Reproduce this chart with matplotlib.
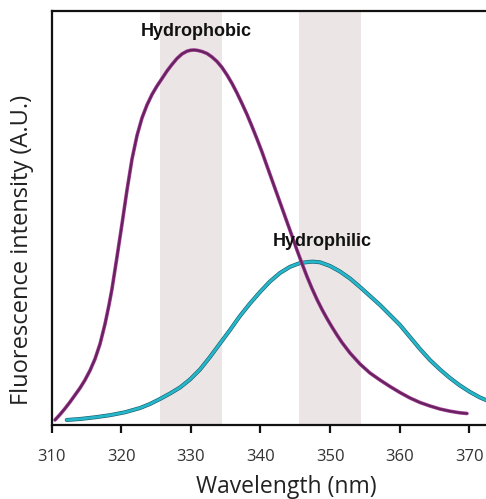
import matplotlib
matplotlib.use("Agg")
import matplotlib.pyplot as plt
import matplotlib.patheffects as pe

# Emission spectra (wavelength in nm, intensity in arbitrary units)
hydrophobic_nm = [310.47, 311.19, 311.91, 312.63, 313.35, 314.07, 314.78, 315.50,
                  316.22, 316.94, 317.66, 318.23, 318.66, 319.38, 320.10, 320.82,
                  321.54, 322.26, 322.97, 323.69, 324.41, 325.13, 325.85, 326.57,
                  327.28, 328.00, 328.72, 329.44, 330.01, 330.45, 330.88, 331.59,
                  332.31, 333.03, 333.75, 334.47, 335.19, 335.91, 336.62, 337.34,
                  338.06, 338.78, 339.50, 340.22, 340.93, 341.65, 342.37, 343.09,
                  343.81, 344.53, 345.24, 345.96, 346.68, 347.40, 348.12, 348.84,
                  349.55, 350.27, 350.99, 351.71, 352.86, 354.30, 355.73, 357.17,
                  358.61, 360.04, 361.48, 362.92, 364.35, 365.79, 367.23, 368.66,
                  369.67]
hydrophobic_int = [1.21, 2.53, 3.98, 5.55, 7.24, 8.93, 10.86, 13.15,
                   15.93, 19.55, 24.38, 28.96, 32.83, 40.55, 48.52, 56.72,
                   64.20, 69.88, 74.10, 77.24, 79.77, 81.82, 83.63, 85.45,
                   87.01, 88.46, 89.55, 90.22, 90.47, 90.51, 90.44, 90.15,
                   89.67, 88.82, 87.74, 86.29, 84.48, 82.43, 80.14, 77.60,
                   74.95, 72.05, 69.03, 65.89, 62.52, 59.14, 55.76, 52.38,
                   49.00, 45.62, 42.24, 38.98, 35.84, 32.95, 30.29, 27.88,
                   25.71, 23.65, 21.72, 19.91, 17.38, 14.72, 12.55, 10.86,
                   9.29, 7.84, 6.52, 5.43, 4.59, 3.86, 3.33, 2.94,
                   2.78]

hydrophilic_nm = [312.16, 314.07, 316.22, 318.38, 320.53, 322.69, 324.12, 325.56,
                  327.00, 328.43, 329.87, 331.31, 332.74, 334.18, 335.62, 337.05,
                  338.49, 339.93, 341.36, 342.80, 344.24, 345.68, 347.11, 347.59,
                  348.55, 349.99, 351.42, 352.86, 354.30, 355.73, 357.17, 358.61,
                  360.04, 361.48, 362.92, 364.35, 365.79, 367.23, 368.66, 370.10,
                  371.54, 372.70]
hydrophilic_int = [1.21, 1.45, 1.86, 2.37, 3.07, 4.10, 5.07, 6.28,
                   7.60, 9.05, 10.98, 13.40, 16.41, 19.67, 22.93, 26.31,
                   29.33, 32.10, 34.64, 36.69, 38.18, 39.10, 39.39, 39.42,
                   39.27, 38.38, 37.05, 35.36, 33.31, 31.14, 28.96, 26.55,
                   24.14, 21.24, 18.34, 15.69, 13.40, 11.34, 9.53, 7.97,
                   6.64, 5.80]

# Highlighted wavelength windows
bands = [(325.5, 334.5), (345.5, 354.5)]

x_ticks = [310, 320, 330, 340, 350, 360, 370]

# Curve labels: (text, x, y)
labels = [("Hydrophobic", 330.7, 94.9), ("Hydrophilic", 348.9, 44.2)]

fig = plt.figure(figsize=(4.86, 4.99), dpi=100)
ax = fig.add_axes([0.1064, 0.1483, 0.968, 0.8303])
ax.set_xlim(310, 377.6)
ax.set_ylim(0, 100)

for lo, hi in bands:
    ax.axvspan(lo, hi, color="#ebe6e5", lw=0, zorder=0)

ax.plot(hydrophilic_nm, hydrophilic_int, color="#26b6ca", lw=2.0,
        solid_capstyle="round", solid_joinstyle="round", zorder=2,
        path_effects=[pe.Stroke(linewidth=2.9, foreground="#1d5f6c"), pe.Normal()])
ax.plot(hydrophobic_nm, hydrophobic_int, color="#66235f", lw=1.6,
        solid_capstyle="round", solid_joinstyle="round", zorder=3,
        path_effects=[pe.Stroke(linewidth=2.6, foreground="#aa429c"), pe.Normal()])

for text, x, y in labels:
    ax.text(x, y, text, ha="center", va="center", fontsize=13,
            fontweight="bold", family="Liberation Sans", color="#111111")

ax.spines["right"].set_visible(False)
for side in ("left", "top", "bottom"):
    ax.spines[side].set_linewidth(1.6)
    ax.spines[side].set_color("#111111")

ax.set_yticks([])
ax.set_xticks(x_ticks)
ax.set_xticklabels([str(t) for t in x_ticks], family="Open Sans",
                   fontsize=12, color="#333333")
ax.tick_params(axis="x", direction="out", length=6, width=1.6,
               color="#111111", pad=11)

fig.text(286.7 / 486, 1 - 487 / 499, "Wavelength (nm)", ha="center",
         va="center", fontsize=16.5, family="Open Sans", color="#222222")
fig.text(22 / 486, 1 - 250 / 499, "Fluorescence intensity (A.U.)",
         rotation=90, ha="center", va="center", fontsize=17,
         family="Open Sans", color="#222222")

fig.savefig("out.png", dpi=100)
